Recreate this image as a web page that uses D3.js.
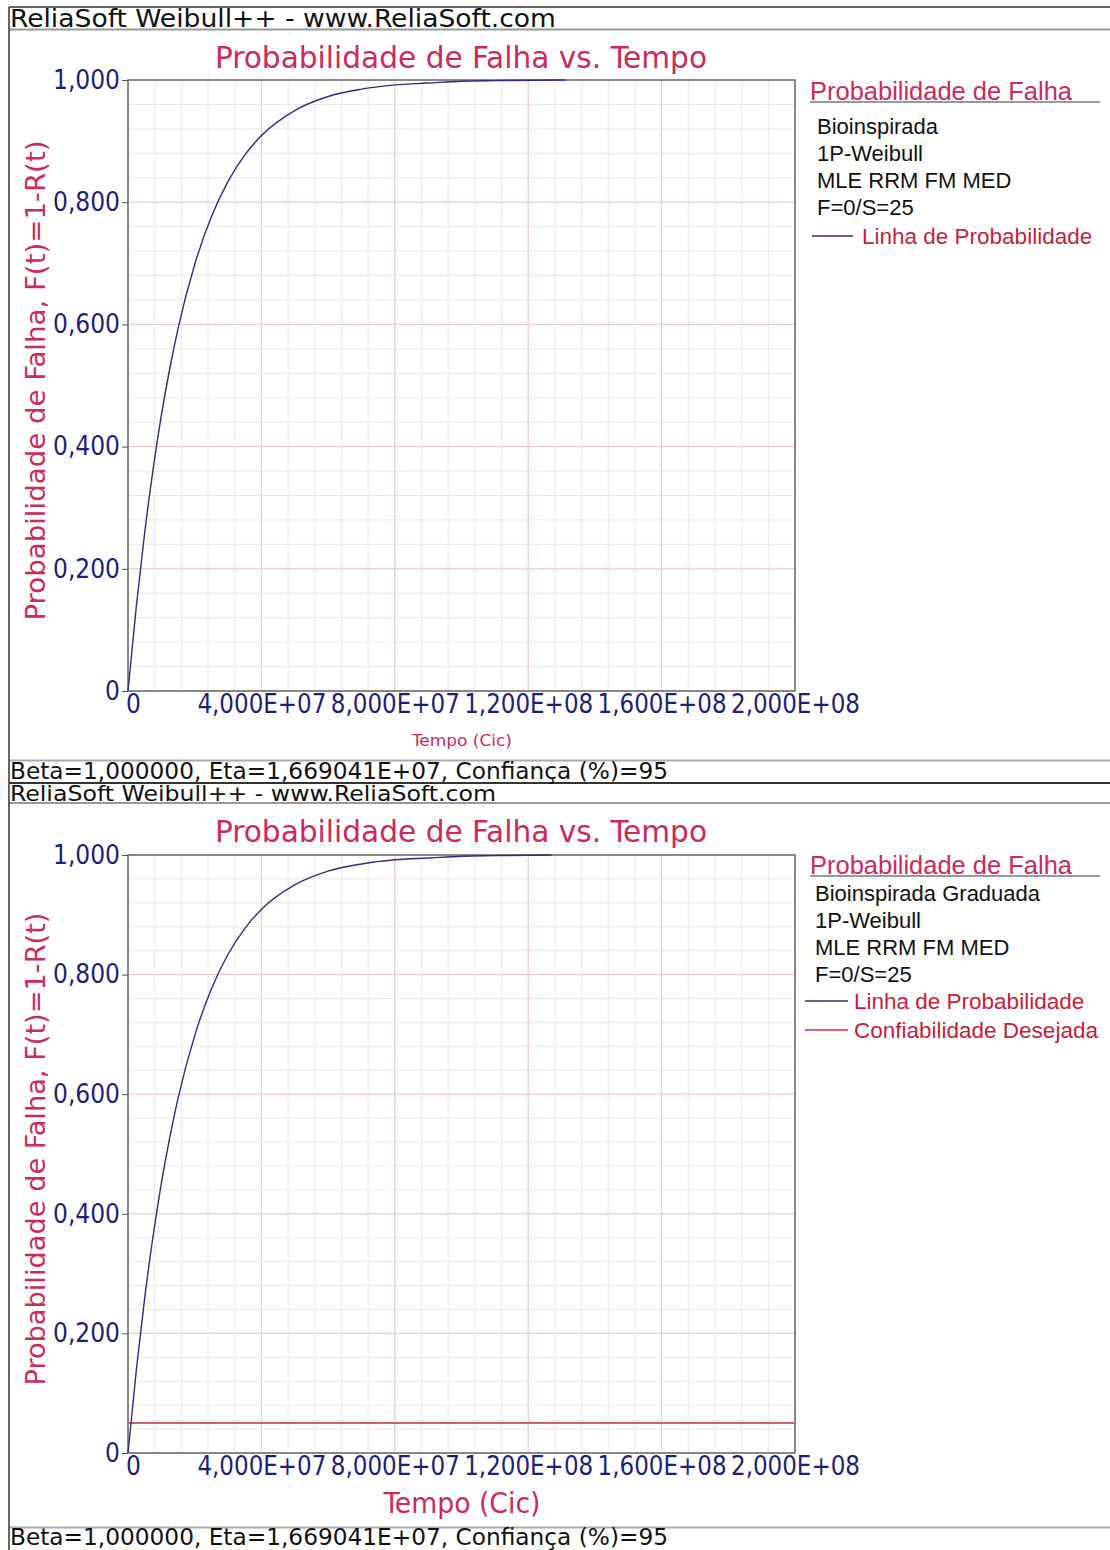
<!DOCTYPE html>
<html>
<head>
<meta charset="utf-8">
<script src="https://cdn.jsdelivr.net/npm/d3@7"></script>
<style>
  body { margin: 0; background: #fff; }
  svg { display: block; }
</style>
</head>
<body>
<div id="chart"></div>
<script>
// data
const tempoSup = [0, 2.5e6, 5e6, 7.5e6, 1e7, 1.25e7, 1.5e7, 2e7, 2.5e7, 3e7, 3.5e7, 4e7, 5e7, 6e7, 7e7, 8e7, 9e7, 1e8, 1.1e8, 1.31e8];
const probSup  = [0, 0.139, 0.259, 0.362, 0.451, 0.527, 0.593, 0.698, 0.776, 0.834, 0.877, 0.909, 0.950, 0.973, 0.985, 0.992, 0.995, 0.998, 0.999, 1.000];
const tempoInf = [0, 2.5e6, 5e6, 7.5e6, 1e7, 1.25e7, 1.5e7, 2e7, 2.5e7, 3e7, 3.5e7, 4e7, 5e7, 6e7, 7e7, 8e7, 9e7, 1e8, 1.1e8, 1.27e8];
const probInf  = [0, 0.139, 0.259, 0.362, 0.451, 0.527, 0.593, 0.698, 0.776, 0.834, 0.877, 0.909, 0.950, 0.973, 0.985, 0.992, 0.995, 0.998, 0.999, 1.000];
const confiabilidadeDesejada = 0.95;

const xTicks = [0, 4e7, 8e7, 1.2e8, 1.6e8, 2e8];
const xTickLabels = ["0", "4,000E+07", "8,000E+07", "1,200E+08", "1,600E+08", "2,000E+08"];
const yTicks = [0, 0.2, 0.4, 0.6, 0.8, 1.0];
const yTickLabels = ["0", "0,200", "0,400", "0,600", "0,800", "1,000"];

const infoSup = ["Bioinspirada", "1P-Weibull", "MLE RRM FM MED", "F=0/S=25"];
const infoInf = ["Bioinspirada Graduada", "1P-Weibull", "MLE RRM FM MED", "F=0/S=25"];

const width = 1110, height = 1550;
const condensed = '"DejaVu Sans Condensed", "DejaVu Sans", sans-serif';
const arial = '"Liberation Sans", Arial, sans-serif';
const crimson = "#cc2a5a", legendRed = "#c41e3a", navy = "#1e1e78", curveBlue = "#2c2c86";

const svg = d3.select("#chart").append("svg")
  .attr("width", width).attr("height", height);

const x = d3.scaleLinear().domain([0, 2e8]).range([128, 795]);

function panel(o) {
  const g = svg.append("g");
  const y = d3.scaleLinear().domain([0, 1]).range([o.bottom, o.top]);

  // header / footer text
  g.append("text").attr("x", 10).attr("y", o.headerY)
    .attr("font-family", condensed).attr("font-size", o.headerSize).attr("fill", "#111")
    .attr("textLength", o.headerLen).attr("lengthAdjust", "spacingAndGlyphs")
    .text("ReliaSoft Weibull++ - www.ReliaSoft.com");
  g.append("text").attr("x", 10).attr("y", o.footerY)
    .attr("font-family", condensed).attr("font-size", 23).attr("fill", "#111")
    .attr("textLength", 658).attr("lengthAdjust", "spacingAndGlyphs")
    .text("Beta=1,000000, Eta=1,669041E+07, Confiança (%)=95");

  // title
  g.append("text").attr("x", 215).attr("y", o.titleY)
    .attr("font-family", condensed).attr("font-size", 31).attr("fill", crimson)
    .attr("textLength", 492).attr("lengthAdjust", "spacingAndGlyphs")
    .text("Probabilidade de Falha vs. Tempo");

  // grid: minor then major
  const xMinor = d3.range(0, 2e8 + 1, 8e6);
  const yMinor = d3.range(0, 1.0001, 0.04);
  g.append("g").selectAll("line").data(xMinor).join("line")
    .attr("x1", d => x(d)).attr("x2", d => x(d)).attr("y1", o.top).attr("y2", o.bottom)
    .attr("stroke", "#e4ebe4").attr("stroke-width", 1);
  g.append("g").selectAll("line").data(yMinor).join("line")
    .attr("y1", d => y(d)).attr("y2", d => y(d)).attr("x1", x(0)).attr("x2", x(2e8))
    .attr("stroke", "#e4ebe4").attr("stroke-width", 1);
  g.append("g").selectAll("line").data(xTicks).join("line")
    .attr("x1", d => x(d)).attr("x2", d => x(d)).attr("y1", o.top).attr("y2", o.bottom)
    .attr("stroke", "#f0c6ce").attr("stroke-width", 1);
  g.append("g").selectAll("line").data(yTicks).join("line")
    .attr("y1", d => y(d)).attr("y2", d => y(d)).attr("x1", x(0)).attr("x2", x(2e8))
    .attr("stroke", "#f0c6ce").attr("stroke-width", 1);

  // plot box
  g.append("rect").attr("x", x(0)).attr("y", o.top)
    .attr("width", x(2e8) - x(0)).attr("height", o.bottom - o.top)
    .attr("fill", "none").attr("stroke", "#6a6a6a").attr("stroke-width", 1.5);

  // desired reliability line
  if (o.desired) {
    g.append("line")
      .attr("x1", x(0)).attr("x2", x(2e8))
      .attr("y1", y(1 - confiabilidadeDesejada)).attr("y2", y(1 - confiabilidadeDesejada))
      .attr("stroke", "#d4606e").attr("stroke-width", 2);
  }

  // probability line
  const pts = o.tempo.map((t, i) => ({ t: t, f: o.prob[i] }));
  g.append("path").datum(pts)
    .attr("fill", "none").attr("stroke", curveBlue).attr("stroke-width", 1.4)
    .attr("d", d3.line().x(d => x(d.t)).y(d => y(d.f)).curve(d3.curveMonotoneX));

  // axes
  const ya = g.append("g").attr("transform", `translate(${x(0)},0)`)
    .call(d3.axisLeft(y).tickValues(yTicks).tickFormat((d, i) => yTickLabels[i]).tickSize(6).tickPadding(2));
  ya.select(".domain").remove();
  ya.selectAll("line").attr("stroke", "#555");
  ya.selectAll("text").attr("font-family", condensed).attr("font-size", 26).attr("fill", navy);

  const xa = g.append("g").attr("transform", `translate(0,${o.bottom})`)
    .call(d3.axisBottom(x).tickValues(xTicks).tickFormat((d, i) => xTickLabels[i]).tickSize(0).tickPadding(4));
  xa.select(".domain").remove();
  xa.selectAll("text").attr("font-family", condensed).attr("font-size", 26).attr("fill", navy)
    .attr("textLength", (d, i) => i === 0 ? null : 129).attr("lengthAdjust", "spacingAndGlyphs")
    .attr("dx", (d, i) => i === 0 ? 5 : 0);

  // axis titles
  g.append("text").attr("x", 462).attr("y", o.xTitleY).attr("text-anchor", "middle")
    .attr("font-family", condensed).attr("font-size", o.xTitleSize).attr("fill", crimson)
    .attr("textLength", o.xTitleLen).attr("lengthAdjust", "spacingAndGlyphs")
    .text("Tempo (Cic)");
  g.append("text")
    .attr("transform", `translate(45,${(o.top + o.bottom) / 2 + o.yTitleShift}) rotate(-90)`)
    .attr("text-anchor", "middle")
    .attr("font-family", condensed).attr("font-size", 27).attr("fill", crimson)
    .attr("textLength", o.yTitleLen).attr("lengthAdjust", "spacingAndGlyphs")
    .text("Probabilidade de Falha, F(t)=1-R(t)");

  // legend
  const lg = g.append("g");
  lg.append("text").attr("x", 810).attr("y", o.legY)
    .attr("font-family", arial).attr("font-size", 25).attr("fill", crimson)
    .attr("textLength", 262).attr("lengthAdjust", "spacingAndGlyphs")
    .text("Probabilidade de Falha");
  lg.append("line").attr("x1", 810).attr("x2", 1100).attr("y1", o.legY + 2).attr("y2", o.legY + 2)
    .attr("stroke", "#777").attr("stroke-width", 1.5);
  lg.selectAll("text.info").data(o.info).join("text").attr("class", "info")
    .attr("x", o.infoX).attr("y", (d, i) => o.legY + o.infoOff + i * 27)
    .attr("font-family", arial).attr("font-size", 22).attr("fill", "#111")
    .text(d => d);
  const entries = [{ name: "Linha de Probabilidade", color: curveBlue }];
  if (o.desired) entries.push({ name: "Confiabilidade Desejada", color: "#cc3344" });
  const ent = lg.selectAll("g.ent").data(entries).join("g").attr("class", "ent")
    .attr("transform", (d, i) => `translate(0,${o.entY + i * 29})`);
  ent.append("line").attr("x1", o.entX1).attr("x2", o.entX2).attr("y1", 0).attr("y2", 0)
    .attr("stroke", d => d.color).attr("stroke-width", 1.5);
  ent.append("text").attr("x", o.entX2 + o.entGap).attr("y", 8)
    .attr("font-family", arial).attr("font-size", 22.5).attr("fill", legendRed)
    .text(d => d.name);
}

// frame lines
function hline(yy, color, w) {
  svg.append("line").attr("x1", 9).attr("x2", width).attr("y1", yy).attr("y2", yy)
    .attr("stroke", color).attr("stroke-width", w);
}
hline(7, "#333", 1.5);
hline(29.5, "#999", 2);
hline(760.5, "#aaa", 2);
hline(783, "#333", 2);
hline(803, "#999", 2);
hline(1527.5, "#aaa", 2);
svg.append("line").attr("x1", 9).attr("x2", 9).attr("y1", 7).attr("y2", height)
  .attr("stroke", "#333").attr("stroke-width", 1.5);

panel({
  top: 80, bottom: 691, tempo: tempoSup, prob: probSup, desired: false,
  headerY: 27, headerSize: 25, headerLen: 546, titleY: 68, footerY: 779,
  xTitleY: 746, xTitleSize: 16, xTitleLen: 100, yTitleLen: 480, yTitleShift: -5,
  legY: 100, infoOff: 34, info: infoSup, infoX: 817, entY: 236, entX1: 812, entX2: 853, entGap: 9
});
panel({
  top: 855, bottom: 1453, tempo: tempoInf, prob: probInf, desired: true,
  headerY: 801, headerSize: 22, headerLen: 486, titleY: 842, footerY: 1545,
  xTitleY: 1513, xTitleSize: 28, xTitleLen: 157, yTitleLen: 473, yTitleShift: -5,
  legY: 874, infoOff: 27, info: infoInf, infoX: 815, entY: 1001, entX1: 805, entX2: 848, entGap: 6
});
</script>
</body>
</html>
